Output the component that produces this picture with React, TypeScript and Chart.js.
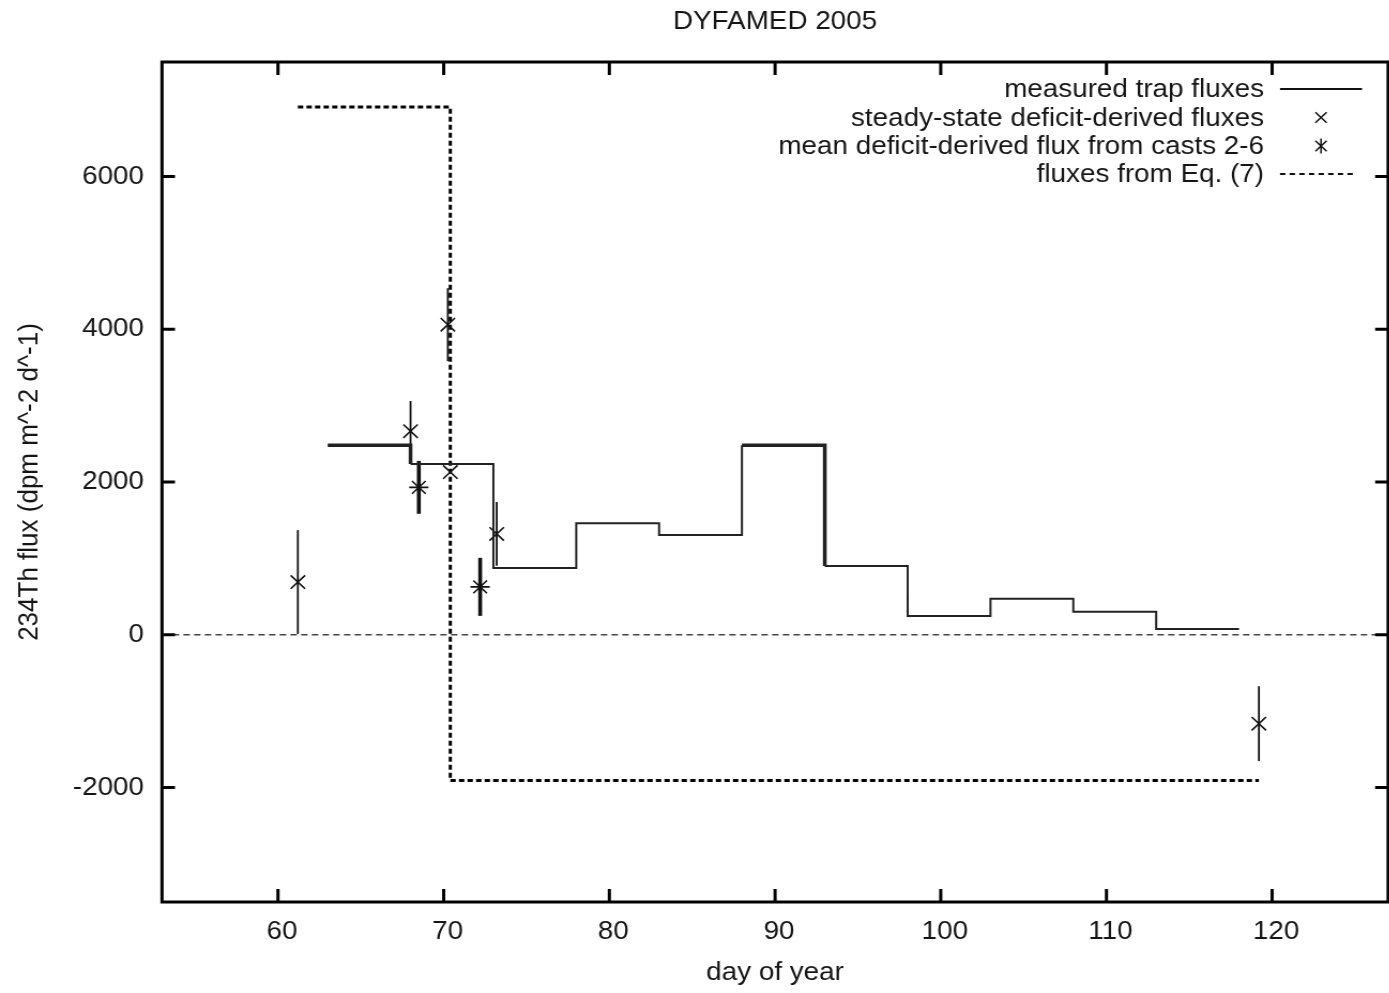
import React, { useEffect, useRef } from "react";
import { Chart, registerables } from "chart.js";

Chart.register(...registerables);

const TITLE = "DYFAMED 2005";
const X_LABEL = "day of year";
const Y_LABEL = "234Th flux (dpm m^-2 d^-1)";
const X_TICKS = [60, 70, 80, 90, 100, 110, 120];
const Y_TICKS = [-2000, 0, 2000, 4000, 6000];

// measured trap fluxes (step function, value holds until next day)
const trapDays = [63, 68, 73, 78, 83, 88, 93, 98, 103, 108, 113, 118];
const trapFlux = [2480, 2235, 875, 1460, 1305, 2480, 900, 245, 470, 300, 75, 75];

// steady-state deficit-derived fluxes
const ssDays = [61.2, 68.0, 70.25, 70.4, 73.2, 119.2];
const ssFlux = [690, 2665, 4060, 2130, 1320, -1165];
const ssErr = [680, 395, 478, 0, 418, 490];

// mean deficit-derived flux from casts 2-6
const meanDays = [68.5, 72.2];
const meanFlux = [1930, 627];
const meanErr = [346, 380];

// fluxes from Eq. (7)
const eqDays = [61.2, 70.4, 119.2];
const eqFlux = [6910, -1910, -1910];

const LABELS = [
  "measured trap fluxes",
  "steady-state deficit-derived fluxes",
  "mean deficit-derived flux from casts 2-6",
  "fluxes from Eq. (7)",
];

const FONT = "'Liberation Sans', Arial, sans-serif";
const FS = 26;
const TEXT = "#151515";

// the original picture is horizontally stretched; render narrower and stretch by CSS
const CSS_W = 1400;
const H = 993;
const SX = 1.07;
const W = Math.round(CSS_W / SX);
const k = CSS_W / W; // actual stretch
const ix = (screenX: number) => screenX / k; // screen x -> internal x

const toXY = (xs: number[], ys: number[]) => xs.map((x, i) => ({ x, y: ys[i] }));

function drawCross(ctx: CanvasRenderingContext2D, x: number, y: number, r: number, star: boolean) {
  const d = r * Math.SQRT1_2;
  ctx.beginPath();
  ctx.moveTo(x - d, y - d);
  ctx.lineTo(x + d, y + d);
  ctx.moveTo(x - d, y + d);
  ctx.lineTo(x + d, y - d);
  if (star) {
    ctx.moveTo(x, y - r);
    ctx.lineTo(x, y + r);
  }
  ctx.stroke();
}

const gnuplotPlugin = {
  id: "gnuplotLook",
  beforeDatasetsDraw(chart: any) {
    const { ctx, chartArea: a, scales } = chart;
    const x = scales.x;
    const y = scales.y;
    ctx.save();
    // zero axis
    ctx.strokeStyle = "#444";
    ctx.lineWidth = 1.6;
    ctx.setLineDash([6, 4]);
    const y0 = y.getPixelForValue(0);
    ctx.beginPath();
    ctx.moveTo(a.left, y0);
    ctx.lineTo(a.right, y0);
    ctx.stroke();
    ctx.setLineDash([]);
    // error bars
    const bars = (days: number[], flux: number[], err: number[], w: number) => {
      ctx.lineWidth = w;
      ctx.strokeStyle = "#111";
      days.forEach((d, i) => {
        if (!err[i]) return;
        const px = x.getPixelForValue(d);
        ctx.beginPath();
        ctx.moveTo(px, y.getPixelForValue(flux[i] - err[i]));
        ctx.lineTo(px, y.getPixelForValue(flux[i] + err[i]));
        ctx.stroke();
      });
    };
    bars(ssDays, ssFlux, ssErr, 1.8);
    bars(meanDays, meanFlux, meanErr, 3.6);
    ctx.restore();
  },
  afterDraw(chart: any) {
    const { ctx, chartArea: a, scales } = chart;
    const x = scales.x;
    const y = scales.y;
    ctx.save();
    // frame
    ctx.strokeStyle = "#000";
    ctx.lineWidth = 3;
    ctx.strokeRect(a.left, a.top, a.right - a.left, a.bottom - a.top);
    // inward ticks
    const TL = 13;
    ctx.lineWidth = 3;
    ctx.beginPath();
    X_TICKS.forEach((v) => {
      const px = x.getPixelForValue(v);
      ctx.moveTo(px, a.bottom);
      ctx.lineTo(px, a.bottom - TL);
      ctx.moveTo(px, a.top);
      ctx.lineTo(px, a.top + TL);
    });
    Y_TICKS.forEach((v) => {
      const py = y.getPixelForValue(v);
      ctx.moveTo(a.left, py);
      ctx.lineTo(a.left + TL / k, py);
      ctx.moveTo(a.right, py);
      ctx.lineTo(a.right - TL / k, py);
    });
    ctx.stroke();

    // title
    ctx.fillStyle = TEXT;
    ctx.font = `${FS}px ${FONT}`;
    ctx.textAlign = "center";
    ctx.textBaseline = "middle";
    ctx.fillText(TITLE, (a.left + a.right) / 2, 22);

    // legend (gnuplot style: right-aligned text, sample at right)
    const ds = chart.data.datasets;
    const rows = [89, 117.5, 146, 174];
    const textRight = ix(1264);
    const sx0 = ix(1280);
    const sx1 = ix(1362);
    const mx = ix(1321);
    ctx.textAlign = "right";
    rows.forEach((ry, i) => {
      ctx.fillStyle = TEXT;
      ctx.fillText(ds[i].label, textRight, ry + 1);
      ctx.strokeStyle = "#111";
      if (i === 0) {
        ctx.lineWidth = 2;
        ctx.beginPath();
        ctx.moveTo(sx0, ry);
        ctx.lineTo(sx1, ry);
        ctx.stroke();
      } else if (i === 1 || i === 2) {
        ctx.lineWidth = 1.5;
        drawCross(ctx, mx, ry, 7.5, i === 2);
      } else {
        ctx.lineWidth = 2;
        ctx.setLineDash([5, 4]);
        ctx.beginPath();
        ctx.moveTo(sx0, ry);
        ctx.lineTo(ix(1357), ry);
        ctx.stroke();
        ctx.setLineDash([]);
      }
    });
    ctx.restore();
  },
};

export default function App() {
  const ref = useRef<HTMLCanvasElement | null>(null);
  useEffect(() => {
    if (!ref.current) return;
    const tickFont = { family: FONT, size: FS };
    const chart = new Chart(ref.current, {
      type: "line",
      data: {
        datasets: [
          {
            label: LABELS[0],
            data: toXY(trapDays, trapFlux),
            stepped: "before",
            borderColor: "#222",
            borderWidth: 2,
            pointRadius: 0,
            fill: false,
            segment: {
              borderWidth: (c: any) => (c.p0DataIndex === 0 || c.p0DataIndex === 5 ? 3.5 : 2),
            },
          } as any,
          {
            label: LABELS[1],
            data: toXY(ssDays, ssFlux),
            showLine: false,
            pointStyle: "crossRot",
            pointRadius: 9.5,
            pointBorderWidth: 1.6,
            borderColor: "#111",
            pointBorderColor: "#111",
          },
          {
            label: LABELS[2],
            data: toXY(meanDays, meanFlux),
            showLine: false,
            pointStyle: "star",
            pointRadius: 9,
            pointBorderWidth: 1.6,
            borderColor: "#111",
            pointBorderColor: "#111",
          },
          {
            label: LABELS[3],
            data: toXY(eqDays, eqFlux),
            stepped: "before",
            borderColor: "#000",
            borderWidth: 3,
            borderDash: [5, 3],
            pointRadius: 0,
            fill: false,
          },
        ],
      },
      options: {
        animation: false,
        responsive: false,
        devicePixelRatio: 1,
        layout: { padding: { top: 62, right: W - ix(1394), bottom: 0, left: 0 } },
        plugins: {
          legend: { display: false },
          title: { display: false },
          tooltip: { enabled: false },
        },
        scales: {
          x: {
            type: "linear",
            min: 53,
            max: 127,
            afterBuildTicks: (s: any) => {
              s.ticks = X_TICKS.map((v) => ({ value: v }));
            },
            afterFit: (s: any) => {
              s.height = 91;
              s.paddingLeft = 0;
              s.paddingRight = 0;
            },
            grid: { display: false, drawTicks: false },
            border: { display: false },
            ticks: {
              font: tickFont,
              color: TEXT,
              padding: 14,
              labelOffset: 4 / k,
              maxRotation: 0,
              autoSkip: false,
              callback: (v: any) => String(v),
            },
            title: {
              display: true,
              text: X_LABEL,
              font: tickFont,
              color: TEXT,
              padding: { top: 0, bottom: 5 },
            },
          },
          y: {
            type: "linear",
            min: -3500,
            max: 7500,
            afterBuildTicks: (s: any) => {
              s.ticks = Y_TICKS.map((v) => ({ value: v }));
            },
            afterFit: (s: any) => {
              s.width = ix(162);
            },
            grid: { display: false, drawTicks: false },
            border: { display: false },
            ticks: {
              font: tickFont,
              color: TEXT,
              padding: ix(18),
              autoSkip: false,
              callback: (v: any) => String(v),
            },
            title: {
              display: true,
              text: Y_LABEL,
              font: tickFont,
              color: TEXT,
              padding: { top: ix(30) - FS * 0.6, bottom: 0 },
            },
          },
        },
      },
      plugins: [gnuplotPlugin],
    });
    return () => chart.destroy();
  }, []);

  return (
    <div
      style={{
        position: "absolute",
        left: 0,
        top: 0,
        width: 1389,
        height: 993,
        overflow: "hidden",
        background: "#fff",
      }}
    >
      <canvas ref={ref} width={W} height={H} style={{ display: "block", width: CSS_W, height: H }} />
    </div>
  );
}
